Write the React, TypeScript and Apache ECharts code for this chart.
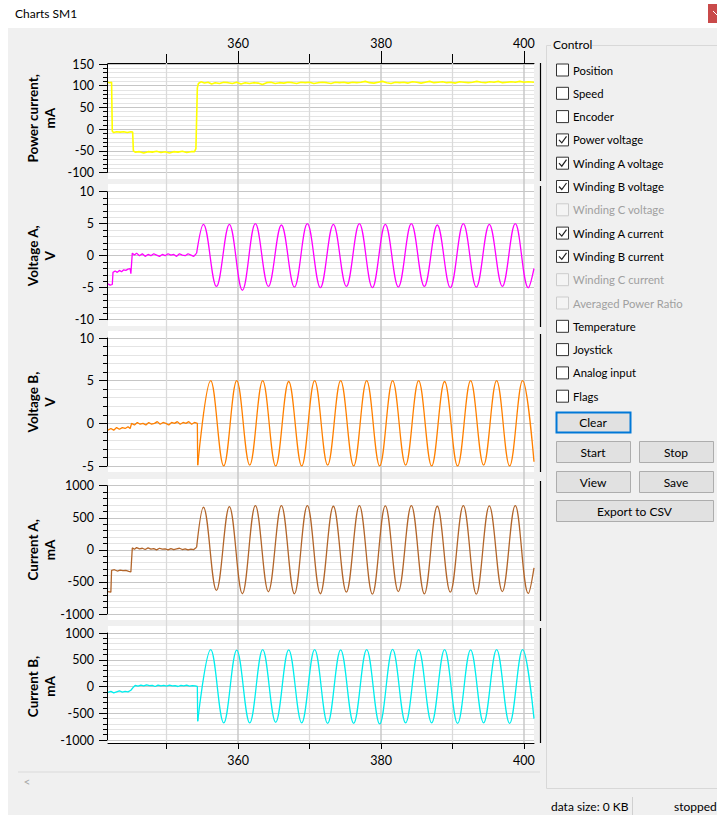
import React, { useEffect, useRef } from 'react';
import * as echarts from 'echarts';

// ---------- data ----------
const X_MIN = 341.8;
const X_MAX = 401.4;
const X_MAJOR_TICKS = [360, 380, 400];
const X_MINOR_TICKS = [350, 370, 390];

const PANEL_TITLES = ['Power current,\nmA', 'Voltage A,\nV', 'Voltage B,\nV', 'Current A,\nmA', 'Current B,\nmA'];
const Y_MIN = [-100, -10, -5, -1000, -1000];
const Y_MAX = [150, 10, 10, 1000, 1000];
const Y_INTERVAL = [50, 5, 5, 500, 500];
const SERIES_COLORS = ['#ffff00', '#ff00ff', '#ff8000', '#b2652a', '#00eeee'];

const POWER_CURRENT: number[][] = [
  [341.8, 108], [342.0, 107], [342.3, 108], [342.4, -5], [342.6, -8], [343.0, -6], [343.5, -7], [344.0, -6],
  [344.5, -8], [345.0, -6], [345.25, -7], [345.35, -50], [345.6, -53], [346.2, -52], [346.8, -55], [347.4, -52],
  [348.0, -53], [348.6, -51], [349.2, -54], [349.8, -52], [350.4, -55], [351.0, -52], [351.6, -53], [352.2, -51],
  [352.8, -54], [353.4, -52], [353.9, -52], [354.1, -45], [354.3, 95], [354.45, 105], [354.8, 109], [355.3, 106],
  [355.8, 108], [356.3, 104], [356.8, 107], [357.4, 105], [358.0, 108], [358.6, 107], [359.2, 105], [359.8, 108],
  [360.4, 104], [361.0, 107], [361.6, 105], [362.2, 107], [362.8, 106], [363.4, 103], [364.0, 107], [364.6, 108],
  [365.2, 105], [365.8, 107], [366.4, 106], [367.0, 108], [367.6, 107], [368.2, 105], [368.8, 108], [369.4, 107],
  [370.0, 108], [370.6, 105], [371.2, 107], [371.8, 108], [372.4, 107], [373.0, 105], [373.6, 108], [374.2, 107],
  [374.8, 108], [375.4, 106], [376.0, 108], [376.6, 107], [377.2, 108], [377.8, 110], [378.4, 107], [379.0, 106],
  [379.6, 108], [380.2, 110], [380.8, 107], [381.4, 105], [382.0, 108], [382.6, 107], [383.2, 108], [383.8, 106],
  [384.4, 109], [385.0, 108], [385.6, 106], [386.2, 108], [386.8, 110], [387.4, 107], [388.0, 108], [388.6, 109],
  [389.2, 107], [389.8, 108], [390.4, 106], [391.0, 109], [391.6, 108], [392.2, 107], [392.8, 108], [393.4, 110],
  [394.0, 108], [394.6, 107], [395.2, 109], [395.8, 108], [396.4, 110], [397.0, 107], [397.6, 108], [398.2, 109],
  [398.8, 108], [399.4, 110], [400.0, 108], [400.6, 109], [401.4, 108],
];

const VOLTAGE_A_PRE: number[][] = [
  [341.8, -4.4], [342.1, -4.6], [342.4, -4.5], [342.5, -2.6], [342.8, -2.4], [343.1, -2.6], [343.4, -2.3],
  [343.7, -2.5], [344.0, -2.2], [344.3, -2.3], [344.6, -2.1], [344.9, -2.0], [345.0, -2.8], [345.2, 0.4],
  [345.5, 0.1], [345.8, 0.4], [346.2, 0.0], [346.6, 0.3], [347.0, -0.1], [347.4, 0.2], [347.8, 0.0],
  [348.2, 0.3], [348.6, 0.1], [349.0, -0.1], [349.4, 0.2], [349.8, 0.0], [350.2, 0.3], [350.6, 0.1],
  [351.0, 0.2], [351.4, -0.1], [351.8, 0.3], [352.2, 0.1], [352.6, 0.0], [353.0, 0.3], [353.4, 0.1],
  [353.8, -0.1], [354.2, 0.4],
];
const VOLTAGE_A_WAVE: number[][] = [
  [354.2, 0.4], [355.15, 4.9], [356.97, -4.8], [358.78, 4.9], [360.6, -5.4], [362.42, 5.0], [364.24, -4.8],
  [366.06, 4.8], [367.88, -4.9], [369.69, 5.0], [371.51, -5.0], [373.33, 4.9], [375.15, -4.8], [376.97, 5.0],
  [378.79, -5.0], [380.6, 4.9], [382.42, -4.9], [384.24, 5.0], [386.06, -4.8], [387.87, 4.8], [389.69, -5.0],
  [391.51, 5.0], [393.33, -4.9], [395.15, 4.9], [396.97, -4.8], [398.78, 5.0], [400.6, -5.0], [401.4, -2.0],
];

const VOLTAGE_B_PRE: number[][] = [
  [341.8, -0.8], [342.2, -0.6], [342.6, -0.8], [343.0, -0.5], [343.4, -0.7], [343.8, -0.5], [344.2, -0.6],
  [344.6, -0.4], [344.9, -0.6], [345.1, 0.0], [345.5, -0.2], [345.9, 0.1], [346.3, -0.1], [346.7, 0.0],
  [347.1, -0.2], [347.5, 0.1], [347.9, -0.1], [348.3, 0.0], [348.7, 0.2], [349.1, -0.1], [349.5, 0.1],
  [349.9, 0.0], [350.3, -0.2], [350.7, 0.1], [351.1, 0.0], [351.5, 0.2], [351.9, -0.1], [352.3, 0.1],
  [352.7, 0.0], [353.1, 0.2], [353.5, -0.1], [353.9, 0.1], [354.3, 0.0], [354.35, -4.9],
];
const VOLTAGE_B_WAVE: number[][] = [
  [354.35, -4.9], [356.17, 5.0], [357.99, -5.0], [359.81, 5.0], [361.63, -4.9], [363.44, 5.0], [365.26, -5.0],
  [367.08, 4.9], [368.9, -5.0], [370.71, 5.0], [372.53, -4.9], [374.35, 5.0], [376.17, -5.0], [377.99, 5.0],
  [379.81, -5.0], [381.62, 5.0], [383.44, -4.9], [385.26, 5.0], [387.08, -5.0], [388.89, 4.9], [390.71, -5.0],
  [392.53, 5.0], [394.35, -4.9], [396.17, 5.0], [397.99, -5.0], [399.8, 5.0], [401.4, -4.5],
];

const CURRENT_A_PRE: number[][] = [
  [341.8, -650], [342.2, -660], [342.3, -320], [342.7, -310], [343.1, -330], [343.5, -315], [343.9, -325],
  [344.3, -320], [344.7, -335], [345.0, -345], [345.2, 30], [345.5, 10], [345.8, 35], [346.2, 15], [346.6, 25],
  [347.0, 5], [347.4, 30], [347.8, 10], [348.2, 20], [348.6, 0], [349.0, 25], [349.4, 10], [349.8, 15],
  [350.2, 0], [350.6, 20], [351.0, 5], [351.4, 15], [351.8, 25], [352.2, 5], [352.6, 15], [353.0, 0],
  [353.4, 10], [353.8, 5], [354.2, 40],
];
const CURRENT_A_WAVE: number[][] = [
  [354.2, 40], [355.15, 664], [356.97, -633], [358.78, 673], [360.6, -684], [362.42, 689], [364.24, -653],
  [366.06, 689], [367.88, -684], [369.69, 689], [371.51, -684], [373.33, 680], [375.15, -660], [376.97, 690],
  [378.79, -690], [380.6, 685], [382.42, -650], [384.24, 690], [386.06, -685], [387.87, 680], [389.69, -660],
  [391.51, 690], [393.33, -690], [395.15, 685], [396.97, -650], [398.78, 690], [400.6, -680], [401.4, -280],
];

const CURRENT_B_PRE: number[][] = [
  [341.8, -110], [342.2, -90], [342.6, -120], [343.0, -100], [343.4, -80], [343.8, -105], [344.2, -90],
  [344.6, -100], [345.0, -70], [345.3, -20], [345.6, 20], [346.0, 5], [346.4, 25], [346.8, 10], [347.2, 30],
  [347.6, 15], [348.0, 20], [348.4, 0], [348.8, 25], [349.2, 10], [349.6, 20], [350.0, 5], [350.4, 25],
  [350.8, 10], [351.2, 15], [351.6, 0], [352.0, 20], [352.4, 10], [352.8, 25], [353.2, 5], [353.6, 15],
  [354.0, 10], [354.3, 0], [354.35, -650],
];
const CURRENT_B_WAVE: number[][] = [
  [354.35, -650], [356.17, 690], [357.99, -680], [359.81, 680], [361.63, -680], [363.44, 690], [365.26, -670],
  [367.08, 685], [368.9, -680], [370.71, 690], [372.53, -690], [374.35, 685], [376.17, -690], [377.99, 690],
  [379.81, -700], [381.62, 695], [383.44, -680], [385.26, 690], [387.08, -680], [388.89, 690], [390.71, -690],
  [392.53, 685], [394.35, -680], [396.17, 690], [397.99, -690], [399.8, 690], [401.4, -600],
];

const CHECKBOX_LABELS = [
  'Position', 'Speed', 'Encoder', 'Power voltage', 'Winding A voltage', 'Winding B voltage', 'Winding C voltage',
  'Winding A current', 'Winding B current', 'Winding C current', 'Averaged Power Ratio', 'Temperature',
  'Joystick', 'Analog input', 'Flags',
];
const CHECKBOX_CHECKED = [false, false, false, true, true, true, false, true, true, false, false, false, false, false, false];
const CHECKBOX_DISABLED = [false, false, false, false, false, false, true, false, false, true, true, false, false, false, false];
const BUTTON_LABELS = ['Clear', 'Start', 'Stop', 'View', 'Save', 'Export to CSV'];

// ---------- layout ----------
const FONT = 'Lato, "Noto Sans", sans-serif';
const PLOT_LEFT = 108;
const PLOT_W = 426;
const FRAME_TOP = 63;
const FRAME_BOTTOM = 743;
const LABEL_TOP = [64, 191.7, 338, 485.7, 633];
const LABEL_BOTTOM = [172.5, 319.7, 466, 614, 740];
const BG_RANGE = [[63, 179], [184, 326], [331, 472], [479, 620], [626, 743]];
const RIGHT_RANGE = [[63, 181], [186, 327], [334, 472], [481, 621], [628, 743]];
const BUTTON_RECTS = [[556, 412, 74, 20], [556, 441, 74, 21], [639, 441, 74, 21], [556, 471, 74, 21], [639, 471, 74, 21], [556, 500, 157, 21]];

function buildOption(): any {
  const grids: any[] = [{ left: PLOT_LEFT, top: FRAME_TOP, width: PLOT_W, height: FRAME_BOTTOM - FRAME_TOP }];
  LABEL_TOP.forEach((t, i) => grids.push({ left: PLOT_LEFT, top: t, width: PLOT_W, height: LABEL_BOTTOM[i] - t }));

  const axisFont = { color: '#000', fontSize: 12.5, fontFamily: FONT };
  const plain = (v: number) => String(v);
  const xAxes: any[] = [
    {
      type: 'value', gridIndex: 0, position: 'top', min: X_MIN, max: X_MAX,
      axisLine: { show: true, onZero: false, lineStyle: { color: '#000', width: 1 } },
      axisTick: { show: true, customValues: X_MAJOR_TICKS, length: 12, lineStyle: { color: '#000' } },
      axisLabel: { show: true, customValues: X_MAJOR_TICKS, margin: 13, formatter: plain, ...axisFont },
      splitLine: { show: true, lineStyle: { color: '#c8c8c8', width: 1.5 } },
    },
    {
      type: 'value', gridIndex: 0, position: 'top', min: X_MIN, max: X_MAX,
      axisLine: { show: false, onZero: false },
      axisTick: { show: true, customValues: X_MINOR_TICKS, length: 9, lineStyle: { color: '#000' } },
      axisLabel: { show: false },
      splitLine: { show: false },
    },
    {
      type: 'value', gridIndex: 0, position: 'bottom', min: X_MIN, max: X_MAX,
      axisLine: { show: true, onZero: false, lineStyle: { color: '#000', width: 1 } },
      axisTick: { show: true, customValues: X_MAJOR_TICKS, length: 6, lineStyle: { color: '#000' } },
      axisLabel: { show: true, customValues: X_MAJOR_TICKS, margin: 11, formatter: plain, ...axisFont },
      splitLine: { show: false },
    },
    {
      type: 'value', gridIndex: 0, position: 'bottom', min: X_MIN, max: X_MAX,
      axisLine: { show: false, onZero: false },
      axisTick: { show: true, customValues: X_MINOR_TICKS, length: 6, lineStyle: { color: '#000' } },
      axisLabel: { show: false },
      splitLine: { show: false },
    },
  ];
  const yAxes: any[] = [{ type: 'value', gridIndex: 0, min: 0, max: 1, show: false }];

  PANEL_TITLES.forEach((_, i) => {
    xAxes.push({ type: 'value', gridIndex: i + 1, min: X_MIN, max: X_MAX, show: false });
    yAxes.push({
      type: 'value', gridIndex: i + 1, min: Y_MIN[i], max: Y_MAX[i], interval: Y_INTERVAL[i], offset: 1,
      axisLine: { show: true, onZero: false, lineStyle: { color: '#000', width: 1 } },
      axisTick: { show: true, length: 8, lineStyle: { color: '#000' } },
      minorTick: { show: true, splitNumber: 5, length: 4, lineStyle: { color: '#000' } },
      axisLabel: { margin: 13, formatter: plain, ...axisFont },
      splitLine: { show: true, lineStyle: { color: '#c6c6c6', width: 1 } },
      minorSplitLine: { show: true, lineStyle: { color: '#e4e4e4', width: 1 } },
    });
  });

  const mk = (panel: number, data: number[][], smooth: number | boolean) => ({
    type: 'line', xAxisIndex: panel + 4, yAxisIndex: panel + 1, data, smooth,
    showSymbol: false, symbol: 'none', silent: true, z: 3,
    lineStyle: { color: SERIES_COLORS[panel], width: panel === 0 ? 1.6 : 1.3 }, itemStyle: { color: SERIES_COLORS[panel] },
  });
  const series: any[] = [
    {
      // minor vertical grid lines (350, 370, 390) across the whole chart frame
      type: 'line', xAxisIndex: 1, yAxisIndex: 0, data: [[X_MINOR_TICKS[0], 0.5]], showSymbol: false,
      symbol: 'none', silent: true, z: 1, lineStyle: { opacity: 0 },
      markLine: {
        silent: true, symbol: ['none', 'none'], z: 1, label: { show: false },
        lineStyle: { color: '#dadada', width: 1.3, type: 'solid' },
        emphasis: { disabled: true },
        data: X_MINOR_TICKS.map((v) => ({ xAxis: v })),
      },
    },
    mk(0, POWER_CURRENT, false),
    mk(1, VOLTAGE_A_PRE, false), mk(1, VOLTAGE_A_WAVE, 0.38),
    mk(2, VOLTAGE_B_PRE, false), mk(2, VOLTAGE_B_WAVE, 0.38),
    mk(3, CURRENT_A_PRE, false), mk(3, CURRENT_A_WAVE, 0.38),
    mk(4, CURRENT_B_PRE, false), mk(4, CURRENT_B_WAVE, 0.38),
  ];

  const g: any[] = [];
  // window chrome
  g.push({ type: 'rect', z: -20, shape: { x: 0, y: 0, width: 717, height: 28 }, style: { fill: '#ffffff' } });
  g.push({ type: 'rect', z: -20, shape: { x: 0, y: 28, width: 8, height: 787 }, style: { fill: '#ffffff' } });
  g.push({ type: 'text', x: 15, y: 13, style: { text: 'Charts SM1', fontSize: 12, fontFamily: FONT, fill: '#000', verticalAlign: 'middle' } });
  g.push({ type: 'rect', shape: { x: 708, y: 4, width: 12, height: 19 }, style: { fill: '#c94a4a' } });
  g.push({ type: 'line', shape: { x1: 713, y1: 11, x2: 717, y2: 15 }, style: { stroke: '#fff', lineWidth: 1 } });

  // panel backgrounds + right borders + titles
  BG_RANGE.forEach(([a, b]) => g.push({ type: 'rect', z: -10, shape: { x: PLOT_LEFT, y: a, width: PLOT_W, height: b - a }, style: { fill: '#ffffff' } }));
  RIGHT_RANGE.forEach(([a, b]) => g.push({ type: 'line', shape: { x1: 540.5, y1: a, x2: 540.5, y2: b }, style: { stroke: '#000', lineWidth: 1.2 } }));
  PANEL_TITLES.forEach((t, i) => g.push({
    type: 'text', x: 41.5, y: (LABEL_TOP[i] + LABEL_BOTTOM[i]) / 2, rotation: Math.PI / 2,
    style: { text: t, fontSize: 13.5, fontWeight: 'bold', fontFamily: FONT, fill: '#000', align: 'center', verticalAlign: 'middle', lineHeight: 17 },
  }));

  // scroll bar
  g.push({ type: 'line', shape: { x1: 18, y1: 772, x2: 540, y2: 772 }, style: { stroke: '#e2e2e2', lineWidth: 1.5 } });
  g.push({ type: 'text', x: 27, y: 781, style: { text: '<', fontSize: 12, fontFamily: FONT, fill: '#a8a8a8', align: 'center', verticalAlign: 'middle' } });

  // status bar
  g.push({ type: 'text', x: 551, y: 806, style: { text: 'data size: 0 KB', fontSize: 12, fontFamily: FONT, fill: '#000', verticalAlign: 'middle' } });
  g.push({ type: 'line', shape: { x1: 632.5, y1: 797, x2: 632.5, y2: 815 }, style: { stroke: '#d0d0d0', lineWidth: 1 } });
  g.push({ type: 'text', x: 674, y: 806, style: { text: 'stopped', fontSize: 12, fontFamily: FONT, fill: '#000', verticalAlign: 'middle' } });

  // control group box
  const gb = '#d8d8d8';
  g.push({ type: 'polyline', shape: { points: [[551, 45.5], [546.5, 45.5], [546.5, 788.5], [720, 788.5]] }, style: { stroke: gb, lineWidth: 1, fill: 'none' } });
  g.push({ type: 'line', shape: { x1: 592, y1: 45.5, x2: 720, y2: 45.5 }, style: { stroke: gb, lineWidth: 1 } });
  g.push({ type: 'text', x: 553, y: 44.5, style: { text: 'Control', fontSize: 12, fontFamily: FONT, fill: '#000', verticalAlign: 'middle' } });

  CHECKBOX_LABELS.forEach((label, i) => {
    const cy = 70 + i * 23.3;
    const dis = CHECKBOX_DISABLED[i];
    g.push({ type: 'rect', shape: { x: 556.5, y: cy - 6, width: 12, height: 12 }, style: { fill: dis ? '#f4f4f4' : '#ffffff', stroke: dis ? '#cccccc' : '#333333', lineWidth: 1 } });
    if (CHECKBOX_CHECKED[i]) {
      g.push({ type: 'polyline', shape: { points: [[559, cy], [561.8, cy + 3], [566.5, cy - 3.5]] }, style: { stroke: '#222', lineWidth: 1.2, fill: 'none' } });
    }
    g.push({ type: 'text', x: 573, y: cy, style: { text: label, fontSize: 11.3, fontFamily: FONT, fill: dis ? '#a0a0a0' : '#000', verticalAlign: 'middle' } });
  });

  BUTTON_LABELS.forEach((label, i) => {
    const [x, y, w, h] = BUTTON_RECTS[i];
    const focus = i === 0;
    g.push({ type: 'rect', shape: { x: x + 0.5, y: y + 0.5, width: w, height: h }, style: { fill: '#e1e1e1', stroke: focus ? '#0078d7' : '#adadad', lineWidth: focus ? 2 : 1 } });
    g.push({ type: 'text', x: x + w / 2, y: y + h / 2 + 0.5, style: { text: label, fontSize: 12, fontFamily: FONT, fill: '#000', align: 'center', verticalAlign: 'middle' } });
  });

  return {
    animation: false,
    backgroundColor: 'transparent',
    grid: grids,
    xAxis: xAxes,
    yAxis: yAxes,
    series,
    graphic: { elements: g },
  };
}

export default function App() {
  const ref = useRef<HTMLDivElement>(null);
  useEffect(() => {
    const chart = echarts.init(ref.current!, null, { renderer: 'svg' });
    chart.setOption(buildOption());
    return () => chart.dispose();
  }, []);
  return (
    <div
      ref={ref}
      style={{ position: 'fixed', left: 0, top: 0, width: 717, height: 815, background: '#f0f0f0' }}
    />
  );
}
